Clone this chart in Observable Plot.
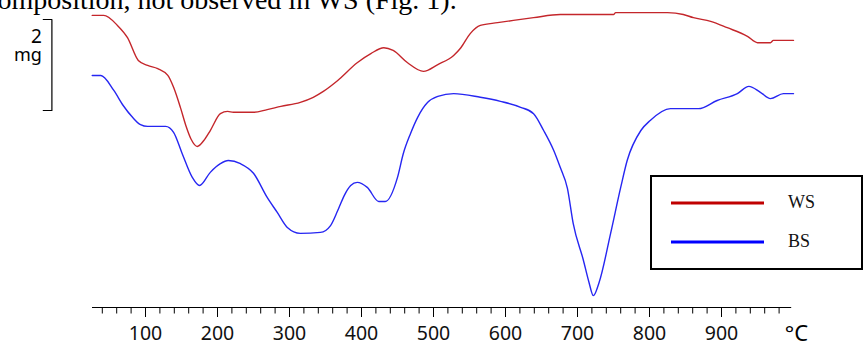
<!DOCTYPE html>
<html><head><meta charset="utf-8">
<script src="https://cdn.jsdelivr.net/npm/d3@7"></script>
<script src="https://cdn.jsdelivr.net/npm/@observablehq/plot@0.6"></script>
<style>
body{margin:0;background:#fff;}
#wrap{position:relative;width:865px;height:345px;overflow:hidden;background:#fff;}
#legend{position:absolute;left:650px;top:175px;}
</style></head><body><div id="wrap"></div>
<script>
// Temperature (°C) and DTG signal (mg, arbitrary offset)
const tempWS = [26,42,61,75,90,103,117,131,139,149,156,163,172,181,190,204,214,222,250,269,288,315,333,347,367,394,413,431,444,464,486,506,528,538,551,565,589,611,639,676,750,753,825,847,861,885,908,936,950,968,972,1000];
const valWS  = [6.42,6.42,6.20,5.93,5.43,5.32,5.25,5.10,4.84,4.37,4.00,3.71,3.54,3.67,3.89,4.26,4.31,4.29,4.29,4.35,4.42,4.51,4.62,4.75,4.99,5.38,5.58,5.71,5.65,5.38,5.19,5.34,5.54,5.71,6.02,6.20,6.26,6.31,6.37,6.44,6.44,6.48,6.48,6.44,6.37,6.29,6.15,5.96,5.82,5.82,5.87,5.87];

const tempBS = [26,38,56,69,82,93,103,128,139,151,165,175,190,204,215,232,250,269,283,297,315,343,357,367,376,385,394,408,424,433,450,458,468,478,492,506,528,565,593,621,639,653,667,676,686,694,708,716,722,730,746,760,769,788,801,829,868,894,922,938,954,968,986,1000];
const valBS  = [5.10,5.10,4.77,4.44,4.18,4.02,3.98,3.98,3.85,3.38,2.86,2.68,2.97,3.16,3.23,3.16,2.95,2.42,2.09,1.76,1.63,1.65,1.80,2.13,2.46,2.68,2.75,2.64,2.33,2.33,2.86,3.38,3.82,4.18,4.51,4.64,4.70,4.62,4.53,4.40,4.26,3.89,3.45,3.08,2.62,1.85,1.05,0.55,0.26,0.55,1.63,2.64,3.23,3.89,4.11,4.37,4.37,4.55,4.70,4.86,4.73,4.59,4.70,4.70];

const seriesNames = ["WS", "BS"];
const majorTicks = [100, 200, 300, 400, 500, 600, 700, 800, 900];
const minorTicks = [40,60,80,100,120,140,160,180,200,220,240,260,280,300,320,340,360,380,400,420,440,460,480,500,520,540,560,580,600,620,640,660,680,700,720,740,760,780,800,820,840,860,880,900,920,940,960,980];
const axisRange = [26.4, 997.5];
const unitLabel = "°C";
const scaleBarMg = 2;
const scaleBarUnit = "mg";
const scaleBarAt = -30;      // °C, left of the curves
const scaleBarTop = 6.33;    // mg
const topText = "omposition, not observed in WS (Fig. 1).";

const colWS = "#c4262b", colBS = "#2626f2";

const ws = tempWS.map((t, i) => ({t, v: valWS[i]}));
const bs = tempBS.map((t, i) => ({t, v: valBS[i]}));
const bracket = [
  {t: scaleBarAt - 12, v: scaleBarTop},
  {t: scaleBarAt, v: scaleBarTop},
  {t: scaleBarAt, v: scaleBarTop - scaleBarMg},
  {t: scaleBarAt - 12, v: scaleBarTop - scaleBarMg}
];

const chart = Plot.plot({
  width: 865,
  height: 345,
  marginLeft: 91,
  marginRight: 72,
  marginTop: 0,
  marginBottom: 38,
  style: {fontFamily: "'Noto Sans', sans-serif", fontSize: "19px", color: "#000", background: "#fff", overflow: "visible"},
  x: {domain: [25, 1000], axis: null},
  y: {domain: [0, 307 / 45.5], axis: null},
  marks: [
    Plot.ruleY([{y: 0, a: axisRange[0], b: axisRange[1]}], {y: "y", x1: "a", x2: "b", stroke: "#000", strokeWidth: 1}),
    Plot.axisX({ticks: minorTicks, tickSize: 6.5, tickFormat: () => "", stroke: "#000"}),
    Plot.axisX({ticks: majorTicks, tickSize: 10, tickPadding: 9, tickFormat: d => String(d), stroke: "#000", fill: "#111", fontSize: 19.5}),
    Plot.text([unitLabel], {frameAnchor: "bottom-right", dx: 3, dy: 33, lineAnchor: "bottom", textAnchor: "middle", fontSize: 22, fill: "#000"}),
    Plot.line(ws, {x: "t", y: "v", stroke: colWS, strokeWidth: 1.4, curve: "monotone-x"}),
    Plot.line(bs, {x: "t", y: "v", stroke: colBS, strokeWidth: 1.4, curve: "monotone-x"}),
    Plot.line(bracket, {x: "t", y: "v", stroke: "#000", strokeWidth: 1.2}),
    Plot.text([String(scaleBarMg)], {x: () => scaleBarAt, y: () => scaleBarTop, dx: -10, dy: 24, textAnchor: "end", lineAnchor: "bottom", fontSize: 19, fill: "#000"}),
    Plot.text([scaleBarUnit], {x: () => scaleBarAt, y: () => scaleBarTop, dx: -10, dy: 42, textAnchor: "end", lineAnchor: "bottom", fontSize: 18, fill: "#000"}),
    Plot.text([topText], {frameAnchor: "top-left", dx: -94, dy: 8.5, textAnchor: "start", lineAnchor: "bottom", fontFamily: "'Liberation Serif', serif", fontSize: 28, fill: "#000"})
  ]
});
const wrap = document.getElementById("wrap");
wrap.appendChild(chart);

// legend
const lg = d3.select(wrap).append("svg").attr("id", "legend").attr("width", 213).attr("height", 95);
lg.append("rect").attr("x", 1).attr("y", 1).attr("width", 211).attr("height", 93).attr("fill", "#fff").attr("stroke", "#000").attr("stroke-width", 2);
seriesNames.forEach((name, i) => {
  const yy = 28 + i * 39;
  lg.append("line").attr("x1", 21).attr("x2", 114).attr("y1", yy).attr("y2", yy).attr("stroke", i === 0 ? "#c00000" : "#0000ff").attr("stroke-width", 3);
  lg.append("text").attr("x", 138).attr("y", yy + 5).attr("font-family", "'Liberation Serif', serif").attr("font-size", 18).attr("fill", "#111").text(name);
});
</script>
</body></html>
